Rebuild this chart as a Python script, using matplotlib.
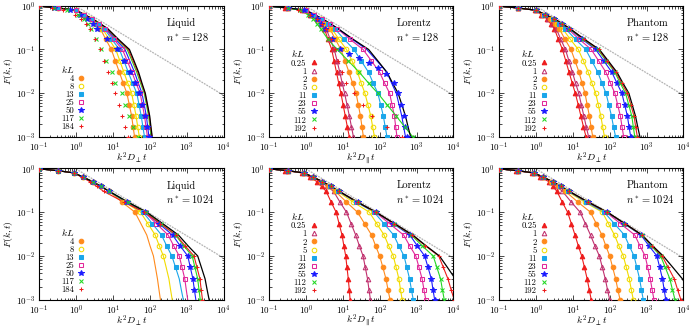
import numpy as np
import matplotlib
matplotlib.use("Agg")
import matplotlib.pyplot as plt

plt.rcParams['font.family'] = ['cmr10', 'DejaVu Serif']
plt.rcParams['mathtext.fontset'] = 'cm'
plt.rcParams['axes.formatter.use_mathtext'] = True

FY = [0.98, 0.89, 0.79, 0.63, 0.5, 0.39, 0.3, 0.17, 0.1, 0.055, 0.03, 0.017,
      0.01, 0.0055, 0.003, 0.0017, 0.001, 0.0004]

# gray reference line
gray_x = [1.0, 1e4]
gray_y = [0.98, 0.009]

# ---------------- Liquid, n* = 128 ----------------
liq_kl = ['4', '8', '13', '25', '50', '117', '184']
liq128_lines = [
    [0.1, 0.32, 1.0, 1.58, 2.51, 3.39, 4.57, 6.46, 9.12, 11.7, 15.1, 19.1, 24.0, 27.9, 32.4, 35.5, 38.9, 43.7],
    [0.1, 0.32, 1.0, 1.62, 2.63, 3.72, 5.25, 7.94, 12.0, 15.5, 20.0, 25.4, 32.4, 37.2, 42.7, 47.3, 52.5, 58.9],
    [0.1, 0.32, 1.0, 1.64, 2.69, 3.98, 5.89, 9.44, 15.1, 20.0, 26.3, 34.3, 44.7, 51.3, 58.9, 65.3, 72.4, 81.3],
    [0.1, 0.32, 1.0, 1.66, 2.75, 4.17, 6.31, 10.7, 18.2, 24.5, 33.1, 42.7, 55.0, 63.1, 72.4, 79.4, 87.1, 97.7],
    [0.1, 0.32, 1.0, 1.68, 2.82, 4.32, 6.61, 11.9, 21.4, 28.8, 38.9, 49.0, 61.7, 70.8, 81.3, 88.1, 95.5, 107],
    [0.1, 0.32, 1.0, 1.68, 2.82, 4.42, 6.92, 13.0, 24.5, 33.1, 44.7, 56.2, 70.8, 81.3, 93.3, 101, 110, 123],
    [0.1, 0.32, 1.0, 1.68, 2.82, 4.47, 7.08, 13.6, 26.3, 35.5, 47.9, 59.6, 74.1, 85.1, 97.7, 106, 115, 126],
]
liq128_black = [0.1, 0.32, 1.0, 1.68, 2.82, 4.52, 7.24, 14.3, 28.2, 37.6, 50.1, 61.7, 75.9, 87.1, 100, 108, 117, 129]
liq128_marks = [
    liq128_lines[0], liq128_lines[1], liq128_lines[2], liq128_lines[3],
    [0.1, 0.25, 0.71, 1.26, 2.0, 2.82, 3.8, 7.08, 12.6, 20.0, 29.5, 39.8, 52.5, 63.1, 74.1, 85.1, 95.5, 107],
    [0.1, 0.25, 0.56, 1.12, 1.66, 2.14, 2.63, 3.55, 4.79, 6.61, 9.33, 11.7, 17.4, 21.4, 27.5, 35.5, 47.9, 56.2],
    [0.1, 0.22, 0.45, 0.95, 1.41, 1.86, 2.34, 3.31, 4.37, 5.75, 7.59, 9.55, 11.7, 14.8, 17.8, 21.4, 25.7, 31.6],
]
liq128_min = [0.0, 0.0, 0.0, 0.0, 0.0, 0.0, 0.0]

# ---------------- Liquid, n* = 1024 ----------------
liq1024_lines = [
    [0.1, 0.32, 0.89, 1.58, 2.82, 4.73, 7.94, 17.8, 39.8, 57.5, 83.2, 102, 126, 143, 162, 178, 195, 224],
    [0.1, 0.32, 0.89, 1.58, 2.82, 4.73, 7.94, 21.1, 56.2, 89.1, 141, 182, 234, 279, 331, 367, 407, 468],
    [0.1, 0.32, 0.89, 1.58, 2.82, 4.73, 7.94, 22.9, 66.1, 117, 209, 288, 398, 501, 631, 716, 813, 955],
    [0.1, 0.32, 0.89, 1.58, 2.82, 4.73, 7.94, 24.0, 72.4, 151, 316, 447, 631, 750, 891, 977, 1072, 1259],
    [0.1, 0.32, 0.89, 1.58, 2.82, 4.73, 7.94, 24.5, 75.9, 178, 417, 668, 1072, 1259, 1479, 1622, 1778, 2042],
    [0.1, 0.32, 0.89, 1.58, 2.82, 4.73, 7.94, 25.1, 79.4, 200, 501, 841, 1413, 1679, 1995, 2163, 2344, 2692],
    [0.1, 0.32, 0.89, 1.45, 2.40, 3.67, 5.62, 20.0, 70.8, 193, 525, 912, 1585, 1905, 2291, 2483, 2692, 3162],
]
liq1024_black = [0.1, 0.32, 0.89, 1.58, 2.82, 4.73, 7.94, 25.7, 83.2, 224, 603, 1096, 1995, 2512, 3162, 3589, 4074, 5012]
liq1024_marks = liq1024_lines
liq1024_min = [0.1, 0.01, 0.0055, 0.003, 0.0017, 0.0, 0.0]

# ---------------- Lorentz, n* = 128 ----------------
lor_kl = ['0.25', '1', '2', '5', '11', '23', '55', '112', '192']
lor128_lines = [
    [0.1, 0.28, 0.79, 1.26, 2.0, 2.51, 3.16, 3.98, 5.01, 5.82, 6.76, 7.76, 8.91, 10.2, 11.7, 13.3, 15.1, 17.8],
    [0.1, 0.32, 0.89, 1.38, 2.14, 2.75, 3.55, 4.57, 5.89, 7.0, 8.32, 9.66, 11.2, 13.0, 15.1, 17.2, 19.5, 22.9],
    [0.1, 0.32, 1.0, 1.58, 2.51, 3.35, 4.47, 6.31, 8.91, 11.5, 14.8, 18.4, 22.9, 26.3, 30.2, 33.1, 36.3, 41.7],
    [0.1, 0.32, 1.0, 1.58, 2.51, 3.55, 5.01, 7.94, 12.6, 17.8, 25.1, 31.6, 39.8, 47.9, 57.5, 64.6, 72.4, 85.1],
    [0.1, 0.32, 1.0, 1.62, 2.63, 3.98, 6.03, 11.0, 20.0, 31.6, 50.1, 66.8, 89.1, 106, 126, 141, 158, 186],
    [0.1, 0.32, 1.0, 1.68, 2.82, 4.47, 7.08, 15.8, 35.5, 59.6, 100, 136, 186, 216, 251, 272, 295, 339],
    [0.1, 0.32, 1.0, 1.68, 2.82, 4.57, 7.41, 18.2, 44.7, 84.1, 158, 211, 282, 335, 398, 447, 501, 575],
    [0.1, 0.32, 0.71, 1.12, 1.58, 2.0, 2.51, 3.98, 7.08, 14.1, 28.2, 50.1, 89.1, 158, 282, 479, 794, 1259],
    None,
]
lor128_black = [0.1, 0.32, 1.0, 1.68, 2.82, 4.57, 7.41, 19.3, 50.1, 89.1, 158, 224, 316, 398, 501, 589, 692, 851]
lor128_marks = lor128_lines[:6] + [
    [0.1, 0.32, 0.89, 1.41, 2.0, 2.6, 3.3, 5.0, 8.5, 15, 27, 50, 90, 150, 240, 316, 380, 447, 500, 562],
    lor128_lines[7],
    [0.1, 0.28, 0.63, 1.26, 2.0, 2.82, 3.55, 4.79, 6.03, 7.59, 9.55, 12.6, 20.0, 35.5, 63.1, 158, 398, 794],
]
lor128_blue_y = [0.98, 0.89, 0.79, 0.63, 0.5, 0.39, 0.3, 0.17, 0.1, 0.08, 0.065, 0.05, 0.038, 0.028,
                 0.017, 0.01, 0.0055, 0.003, 0.0017, 0.001]

# ---------------- Lorentz, n* = 1024 ----------------
lor1024_lines = [
    [0.1, 0.28, 0.79, 1.26, 2.0, 2.66, 3.55, 4.84, 6.61, 7.94, 9.55, 10.7, 12.0, 13.0, 14.1, 15.0, 15.8, 17.4],
    [0.1, 0.32, 0.89, 1.50, 2.51, 3.76, 5.62, 8.41, 12.6, 16.8, 22.4, 28.2, 35.5, 40.7, 46.8, 51.3, 56.2, 63.1],
    [0.1, 0.32, 0.89, 1.53, 2.63, 4.07, 6.31, 12.6, 25.1, 38.9, 60.3, 77.6, 100, 122, 148, 168, 191, 219],
    [0.1, 0.32, 0.89, 1.57, 2.75, 4.42, 7.08, 19.3, 52.5, 83.2, 132, 176, 234, 279, 331, 367, 407, 468],
    [0.1, 0.32, 0.89, 1.58, 2.82, 4.62, 7.59, 23.2, 70.8, 130, 240, 331, 457, 543, 646, 724, 813, 955],
    [0.1, 0.32, 0.89, 1.58, 2.82, 4.73, 7.94, 24.5, 75.9, 184, 447, 653, 955, 1161, 1413, 1585, 1778, 2089],
    [0.1, 0.32, 0.89, 1.58, 2.82, 4.73, 7.94, 25.1, 79.4, 229, 661, 1047, 1660, 2042, 2512, 2786, 3090, 3548],
    [0.1, 0.32, 0.89, 1.58, 2.82, 4.73, 7.94, 25.1, 79.4, 240, 724, 1429, 2818, 3548, 4467, 5012, 5623, 6607],
    [0.1, 0.32, 0.89, 1.58, 2.82, 4.73, 7.94, 25.1, 79.4, 245, 759, 1738, 3981, 5309, 7079, 8610, 10470, 12590],
]
lor1024_black = [0.1, 0.32, 0.89, 1.58, 2.82, 4.73, 7.94, 25.1, 79.4, 251, 794, 1820, 4169, 6839, 11220, 15850, 22390, 35480]

# ---------------- Phantom, n* = 128 ----------------
pha128_lines = [
    [0.1, 0.32, 0.95, 1.38, 2.0, 2.5, 3.16, 4.07, 5.25, 6.46, 7.94, 9.66, 11.7, 14.0, 16.6, 19.5, 22.9, 26.9],
    [0.1, 0.32, 0.98, 1.45, 2.14, 2.75, 3.55, 4.73, 6.31, 7.85, 9.77, 11.9, 14.5, 17.0, 20.0, 23.2, 26.9, 31.6],
    [0.1, 0.32, 1.0, 1.55, 2.4, 3.2, 4.27, 6.17, 8.91, 11.5, 14.8, 17.8, 21.4, 24.5, 28.2, 31.3, 34.7, 39.8],
    [0.1, 0.32, 1.0, 1.64, 2.69, 3.76, 5.25, 8.61, 14.1, 19.3, 26.3, 33.1, 41.7, 49.0, 57.5, 64.6, 72.4, 85.1],
    [0.1, 0.32, 1.0, 1.70, 2.88, 4.27, 6.31, 11.9, 22.4, 32.7, 47.9, 61.7, 79.4, 94.4, 112, 127, 145, 170],
    [0.1, 0.32, 1.0, 1.74, 3.02, 4.68, 7.24, 15.1, 31.6, 50.1, 79.4, 105, 138, 164, 195, 216, 240, 282],
    [0.1, 0.32, 1.0, 1.78, 3.16, 5.01, 7.94, 18.2, 41.7, 69.2, 115, 157, 214, 254, 302, 335, 372, 437],
    [0.1, 0.32, 1.0, 1.78, 3.16, 5.07, 8.13, 19.5, 46.8, 80.4, 138, 193, 269, 327, 398, 437, 479, 562],
    [0.1, 0.32, 1.0, 1.78, 3.16, 5.13, 8.32, 20.4, 50.1, 86.1, 148, 211, 302, 372, 457, 507, 562, 661],
]
pha128_black = [0.1, 0.32, 1.0, 1.78, 3.16, 5.13, 8.32, 20.9, 52.5, 91.2, 158, 229, 331, 407, 501, 575, 661, 794]

# ---------------- Phantom, n* = 1024 ----------------
pha1024_lines = [
    [0.1, 0.28, 0.79, 1.33, 2.24, 2.88, 3.72, 5.19, 7.24, 9.12, 11.5, 14.1, 17.4, 20.7, 24.5, 27.9, 31.6, 36.3],
    [0.1, 0.32, 0.89, 1.50, 2.51, 3.63, 5.25, 9.12, 15.8, 21.9, 30.2, 39.8, 52.5, 63.1, 75.9, 87.1, 100, 120],
    [0.1, 0.32, 0.89, 1.53, 2.63, 4.07, 6.31, 13.8, 30.2, 43.2, 61.7, 78.5, 100, 120, 145, 166, 191, 224],
    [0.1, 0.32, 0.89, 1.57, 2.75, 4.42, 7.08, 21.1, 63.1, 92.3, 135, 178, 234, 282, 339, 385, 437, 525],
    [0.1, 0.32, 0.89, 1.58, 2.82, 4.62, 7.59, 23.2, 70.8, 133, 251, 339, 457, 543, 646, 724, 813, 955],
    [0.1, 0.32, 0.89, 1.58, 2.82, 4.73, 7.94, 25.1, 79.4, 195, 479, 661, 912, 1072, 1259, 1413, 1585, 1862],
    [0.1, 0.32, 0.89, 1.58, 2.82, 4.73, 7.94, 25.7, 83.2, 243, 708, 1161, 1905, 2265, 2692, 2985, 3311, 3802],
    [0.1, 0.32, 0.89, 1.58, 2.82, 4.73, 7.94, 26.0, 85.1, 251, 741, 1334, 2399, 3199, 4266, 5012, 5888, 6761],
    [0.1, 0.32, 0.89, 1.58, 2.82, 4.73, 7.94, 26.0, 85.1, 254, 759, 1413, 2630, 3846, 5623, 6918, 8511, 10000],
]
pha1024_black = [0.1, 0.32, 0.89, 1.58, 2.82, 4.73, 7.94, 26.3, 87.1, 257, 759, 1462, 2818, 5129, 9333, 13650, 19950, 31620]

# ---------------- styles ----------------
C_RED, C_CRIM, C_ORA, C_YEL = '#ee1c1c', '#c0306e', '#ff8a1c', '#f2dc00'
C_CYA, C_MAG, C_BLU, C_GRN = '#1aa6ea', '#e2289a', '#1c1cff', '#22d822'
lor_style = [(C_RED, '^', True), (C_CRIM, '^', False), (C_ORA, 'o', True), (C_YEL, 'o', False),
             (C_CYA, 's', True), (C_MAG, 's', False), (C_BLU, '*', True), (C_GRN, 'x', True),
             (C_RED, '+', True)]
liq_style = lor_style[2:]


def draw(ax, kls, styles, lines, marks, black, mark_y=None, mark_min=None):
    ax.plot(gray_x, gray_y, color='#b4b4b4', lw=0.9, ls=(0, (1.5, 0.8)), zorder=1)
    for i, (lab, (col, mk, filled)) in enumerate(zip(kls, styles)):
        if lines[i] is not None:
            ax.plot(lines[i], FY[:len(lines[i])], color=col, lw=0.8, zorder=2)
        xs = np.array(marks[i], dtype=float)
        ys = np.array(mark_y[i] if mark_y and mark_y[i] else FY[:len(xs)], dtype=float)
        if mark_min is not None:
            keep = ys >= mark_min[i]
            xs, ys = xs[keep], ys[keep]
        ms = 4.4 if mk == '*' else 3.3
        ax.plot(xs, ys, ls='none', marker=mk, color=col, ms=ms, mew=0.75,
                mfc=col if filled else 'none', label=lab, zorder=3)
    ax.plot(black, FY, color='black', lw=0.9, zorder=2.5)


fig = plt.figure(figsize=(6.92, 3.29), dpi=100)
lefts = [0.0564, 0.3887, 0.7211]
bottoms = [0.5836, 0.089]
W, H = 0.2666, 0.399

panels = [
    (0, 0, 'Liquid', '128', liq_kl, liq_style, liq128_lines, liq128_marks, liq128_black, None, liq128_min, r'$k^2D_\perp t$'),
    (0, 1, 'Lorentz', '128', lor_kl, lor_style, lor128_lines, lor128_marks, lor128_black,
     [None] * 6 + [lor128_blue_y, None, None], None, r'$k^2D_\parallel t$'),
    (0, 2, 'Phantom', '128', lor_kl, lor_style, pha128_lines, pha128_lines, pha128_black, None, None, r'$k^2D_\perp t$'),
    (1, 0, 'Liquid', '1024', liq_kl, liq_style, liq1024_lines, liq1024_marks, liq1024_black, None, liq1024_min, r'$k^2D_\perp t$'),
    (1, 1, 'Lorentz', '1024', lor_kl, lor_style, lor1024_lines, lor1024_lines, lor1024_black, None, None, r'$k^2D_\parallel t$'),
    (1, 2, 'Phantom', '1024', lor_kl, lor_style, pha1024_lines, pha1024_lines, pha1024_black, None, None, r'$k^2D_\perp t$'),
]

for row, col, name, n, kls, styles, lines, marks, black, mark_y, mark_min, xlab in panels:
    ax = fig.add_axes([lefts[col], bottoms[row], W, H])
    draw(ax, kls, styles, lines, marks, black, mark_y, mark_min)
    ax.set_xscale('log')
    ax.set_yscale('log')
    ax.set_xlim(0.1, 1e4)
    ax.set_ylim(1e-3, 1)
    ax.tick_params(which='both', direction='in', top=True, right=True, width=0.5, labelsize=6.5)
    ax.tick_params(which='major', length=3.5)
    ax.tick_params(which='minor', length=1.8)
    ax.tick_params(axis='x', pad=2.8)
    ax.tick_params(axis='y', pad=3.0)
    for s in ax.spines.values():
        s.set_linewidth(0.8)
    ax.set_ylabel(r'$F(k,t)$', fontsize=7, labelpad=0.5)
    ax.set_xlabel(xlab, fontsize=7, labelpad=-2.6)
    ax.text(0.69, 0.87, name, transform=ax.transAxes, fontsize=7.5, va='center')
    ax.text(0.69, 0.765, r'$n^* = %s$' % n, transform=ax.transAxes, fontsize=7.5, va='center')
    top = 0.555 if name == 'Liquid' else 0.675
    sp = -0.05 if name == 'Liquid' else -0.03
    ax.legend(loc='upper left', bbox_to_anchor=(0.12, top), frameon=False, markerfirst=False,
              title=r'$kL$', alignment='left', fontsize=6.3, title_fontsize=7,
              handlelength=1.0, handletextpad=0.3, labelspacing=sp, borderpad=0, borderaxespad=0)

fig.savefig('out.png', dpi=100)
